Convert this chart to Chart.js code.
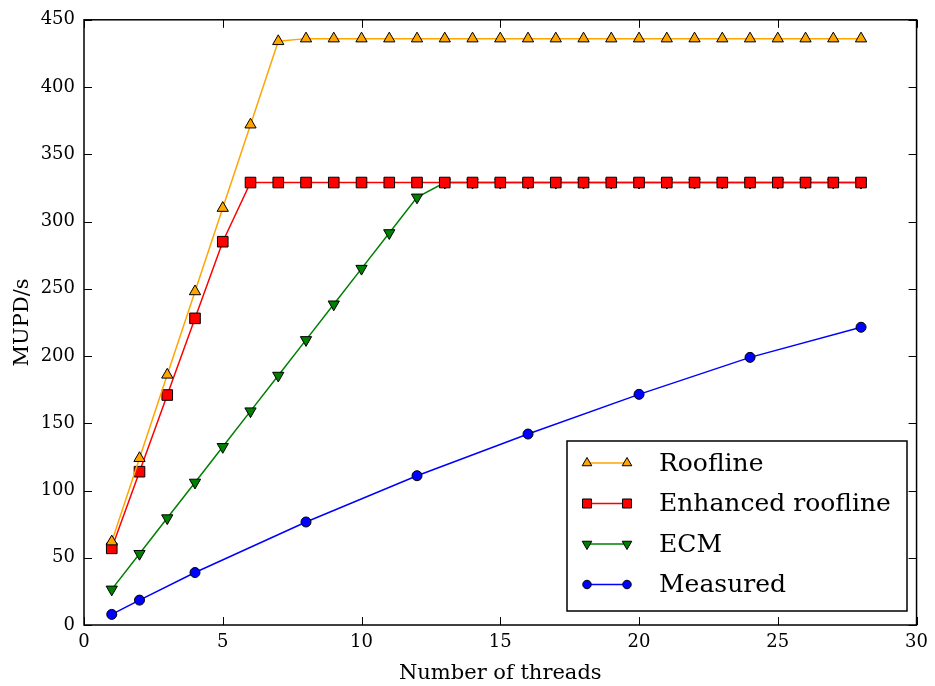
<!DOCTYPE html>
<html>
<head>
<meta charset="utf-8">
<script src="https://cdn.jsdelivr.net/npm/chart.js@4"></script>
<style>
  html, body { margin: 0; padding: 0; background: #fff; }
  #wrap { width: 935px; height: 686px; position: relative; }
</style>
</head>
<body>
<div id="wrap"><canvas id="perf"></canvas></div>
<script>
// thread counts and MUPD/s per model
const threads = [1,2,3,4,5,6,7,8,9,10,11,12,13,14,15,16,17,18,19,20,21,22,23,24,25,26,27,28];
const roofline = [62,124,186,248,310,372,434,436,436,436,436,436,436,436,436,436,436,436,436,436,436,436,436,436,436,436,436,436];
const enhanced = [57,114,171,228,285,329,329,329,329,329,329,329,329,329,329,329,329,329,329,329,329,329,329,329,329,329,329,329];
const ecm = [26.5,53,79.5,106,132.5,159,185.5,212,238.5,265,291.5,318,329,329,329,329,329,329,329,329,329,329,329,329,329,329,329,329];
const measuredThreads = [1,2,4,8,12,16,20,24,28];
const measured = [7.9,18.5,39,76.6,111,142,171.5,199,221.4];

const xTicks = [0,5,10,15,20,25,30];
const yTicks = [0,50,100,150,200,250,300,350,400,450];

const FONT = '"DejaVu Serif", serif';

function pts(xs, ys){ return xs.map((x,i) => ({x, y: ys[i]})); }

function series(label, xs, ys, color, style, radius, rotation){
  return {
    label, data: pts(xs, ys),
    borderColor: color, borderWidth: 1.5,
    pointStyle: style, pointRadius: radius, pointHoverRadius: radius,
    pointRotation: rotation || 0,
    pointBackgroundColor: color, pointBorderColor: '#000', pointBorderWidth: 1,
    tension: 0, fill: false
  };
}

// matplotlib-ish frame: inward ticks on all four sides + box
const frame = {
  id: 'frame',
  afterDatasetsDraw(chart){
    const {ctx, chartArea: a, scales: {x, y}} = chart;
    const L = 8;
    ctx.save();
    ctx.strokeStyle = '#000';
    ctx.lineWidth = 1;
    ctx.beginPath();
    xTicks.forEach(v => {
      const px = Math.round(x.getPixelForValue(v)) + 0.5;
      ctx.moveTo(px, a.bottom); ctx.lineTo(px, a.bottom - L);
      ctx.moveTo(px, a.top); ctx.lineTo(px, a.top + L);
    });
    yTicks.forEach(v => {
      const py = Math.round(y.getPixelForValue(v)) + 0.5;
      ctx.moveTo(a.left, py); ctx.lineTo(a.left + L, py);
      ctx.moveTo(a.right, py); ctx.lineTo(a.right - L, py);
    });
    ctx.stroke();
    ctx.lineWidth = 1.5;
    ctx.strokeRect(a.left, a.top, a.right - a.left, a.bottom - a.top);
    ctx.restore();
  }
};

// legend box with a marker at each end of a short line
const legendBox = {
  id: 'legendBox',
  afterDraw(chart){
    const ctx = chart.ctx;
    const bx = 567, by = 441, bw = 340, bh = 170;
    ctx.save();
    ctx.fillStyle = '#fff';
    ctx.fillRect(bx, by, bw, bh);
    ctx.strokeStyle = '#000';
    ctx.lineWidth = 1.5;
    ctx.strokeRect(bx, by, bw, bh);
    ctx.font = '25px ' + FONT;
    ctx.textBaseline = 'middle';
    chart.data.datasets.forEach((ds, i) => {
      const yy = 463 + i * 40.5;
      ctx.strokeStyle = ds.borderColor;
      ctx.lineWidth = 1.5;
      ctx.beginPath(); ctx.moveTo(587, yy); ctx.lineTo(627, yy); ctx.stroke();
      [587, 627].forEach(xx => {
        ctx.fillStyle = ds.pointBackgroundColor;
        ctx.strokeStyle = '#000';
        ctx.lineWidth = 1;
        Chart.helpers.drawPoint(ctx, {pointStyle: ds.pointStyle, rotation: ds.pointRotation, radius: ds.pointRadius * 0.85, borderWidth: 1}, xx, yy);
      });
      ctx.fillStyle = '#000';
      ctx.fillText(ds.label, 659, yy + 1);
    });
    ctx.restore();
  }
};

new Chart(document.getElementById('perf'), {
  type: 'line',
  data: {
    datasets: [
      series('Roofline', threads, roofline, '#FFA500', 'triangle', 6.5),
      series('Enhanced roofline', threads, enhanced, '#FF0000', 'rect', 7.5),
      series('ECM', threads, ecm, '#008000', 'triangle', 6.5, 180),
      series('Measured', measuredThreads, measured, '#0000FF', 'circle', 5)
    ]
  },
  options: {
    responsive: true,
    maintainAspectRatio: false,
    animation: false,
    layout: { padding: { top: 18, right: 15, left: 0, bottom: 0 } },
    plugins: { legend: { display: false }, tooltip: { enabled: false } },
    scales: {
      x: {
        type: 'linear', min: 0, max: 30,
        afterBuildTicks: s => { s.ticks = xTicks.map(v => ({value: v})); },
        afterFit: s => { s.height = 61; },
        grid: { display: false, drawTicks: false },
        border: { display: false },
        ticks: { color: '#000', padding: 7, maxRotation: 0, font: { family: FONT, size: 18 } },
        title: { display: true, text: 'Number of threads', color: '#000', padding: { top: 3, bottom: 0 }, font: { family: FONT, size: 21 } }
      },
      y: {
        type: 'linear', min: 0, max: 450,
        afterBuildTicks: s => { s.ticks = yTicks.map(v => ({value: v})); },
        afterFit: s => { s.width = 84; },
        grid: { display: false, drawTicks: false },
        border: { display: false },
        ticks: { color: '#000', padding: 9, font: { family: FONT, size: 18 } },
        title: { display: true, text: 'MUPD/s', color: '#000', padding: { top: 10, bottom: 0 }, font: { family: FONT, size: 21 } }
      }
    }
  },
  plugins: [frame, legendBox]
});
</script>
</body>
</html>
